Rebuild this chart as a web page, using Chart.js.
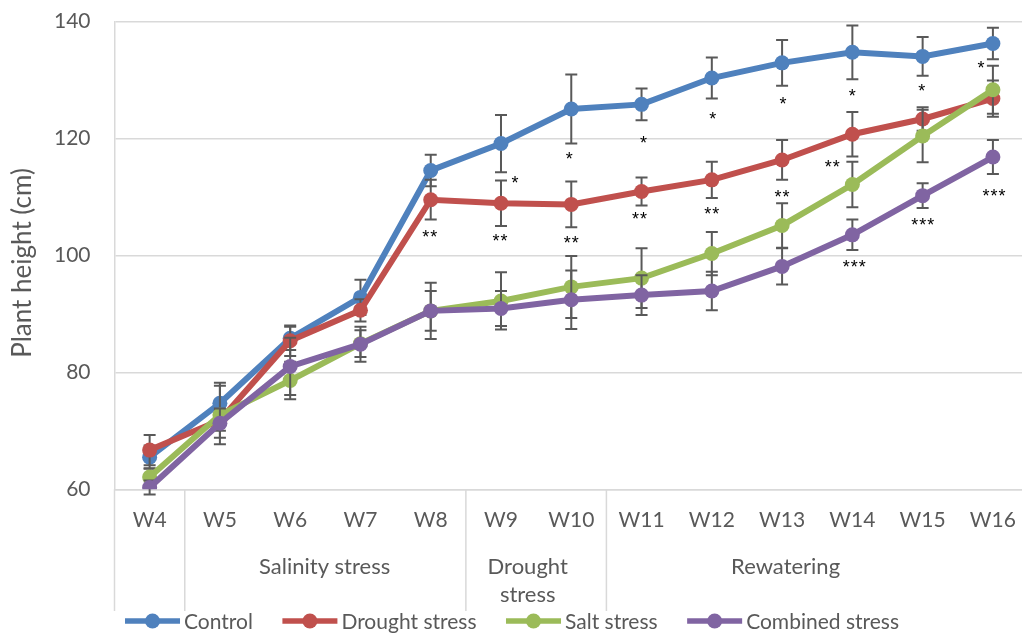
<!DOCTYPE html>
<html>
<head>
<meta charset="utf-8">
<script src="https://cdn.jsdelivr.net/npm/chart.js@4.4.1/dist/chart.umd.min.js"></script>
<style>
  html, body { margin: 0; padding: 0; background: #fff; overflow: hidden; }
  #wrap { width: 1034px; height: 634px; }
</style>
</head>
<body>
<div id="wrap"><canvas id="c" width="1034" height="634"></canvas></div>
<script>
// Weekly plant height (cm), mean ± error for each treatment
const weeks = ['W4', 'W5', 'W6', 'W7', 'W8', 'W9', 'W10', 'W11', 'W12', 'W13', 'W14', 'W15', 'W16'];
const seriesNames = ['Control', 'Drought stress', 'Salt stress', 'Combined stress'];

const controlMean  = [65.5, 74.7, 85.8, 92.8, 114.5, 119.1, 125.0, 125.8, 130.3, 132.9, 134.7, 134.0, 136.2];
const controlErr   = [2.0, 3.5, 2.0, 3.0, 2.7, 4.9, 5.9, 2.7, 3.5, 3.9, 4.6, 3.3, 2.7];
const droughtMean  = [66.7, 71.8, 85.4, 90.6, 109.5, 108.9, 108.7, 110.9, 112.9, 116.3, 120.7, 123.3, 126.8];
const droughtErr   = [2.6, 1.8, 2.6, 1.9, 3.4, 3.9, 3.9, 2.4, 3.1, 3.4, 3.8, 2.0, 3.1];
const saltMean     = [62.1, 72.7, 78.6, 84.9, 90.5, 92.2, 94.6, 96.1, 100.3, 105.1, 112.1, 120.4, 128.3];
const saltErr      = [1.5, 5.0, 3.2, 2.3, 4.8, 4.9, 5.3, 5.1, 3.7, 3.8, 3.9, 4.5, 4.1];
const combinedMean = [60.3, 71.3, 81.0, 84.8, 90.5, 90.9, 92.4, 93.2, 93.9, 98.1, 103.5, 110.2, 116.8];
const combinedErr  = [1.2, 2.5, 4.9, 3.0, 3.4, 3.0, 5.0, 3.4, 3.3, 3.1, 2.6, 2.1, 2.9];

const yTicks = [60, 80, 100, 120, 140];

// Treatment phases shown under the week labels
const phaseNames = [['Salinity stress'], ['Drought', 'stress'], ['Rewatering']];
const phaseFirstWeek = ['W5', 'W9', 'W11'];

// Significance marks: series index, week, text
const starSeries = [0, 0, 0, 0, 0, 0, 0, 0, 1, 1, 1, 1, 1, 1, 1, 3, 3, 3];
const starWeek   = ['W9', 'W10', 'W11', 'W12', 'W13', 'W14', 'W15', 'W16',
                    'W8', 'W9', 'W10', 'W11', 'W12', 'W13', 'W14',
                    'W14', 'W15', 'W16'];
const starText   = ['*', '*', '*', '*', '*', '*', '*', '*',
                    '**', '**', '**', '**', '**', '**', '**',
                    '***', '***', '***'];

const means = [controlMean, droughtMean, saltMean, combinedMean];
const errs = [controlErr, droughtErr, saltErr, combinedErr];

// ---- styling / layout ----
const colors = ['#4f81bd', '#c0504d', '#9bbb59', '#8064a2'];
const textColor = '#595959';
const gridColor = '#d9d9d9';
const FONT = 'Lato, "Open Sans", sans-serif';

// label offset (px) of each significance mark relative to its point
const starOffset = [[14, 35], [-2, 46], [2, 34], [1, 37], [1, 37], [0, 39], [-1, 30], [-12, 20],
                    [-1, 33], [-1, 33], [0, 34], [-2, 23], [0, 30], [0, 33], [-20, 28],
                    [2, 28], [0, 25], [1, 35]];
// horizontal centre of each phase label, in category units
const phaseCenter = [2.49, 5.38, 9.05];

const plotLeft = 114.5, plotTop = 21.3, plotBottom = 489.3;

const decorations = {
  id: 'decorations',
  beforeDatasetDraw(chart, args) {
    const i = args.index;
    const ctx = chart.ctx, y = chart.scales.y;
    const meta = chart.getDatasetMeta(i);
    ctx.save();
    ctx.strokeStyle = textColor;
    ctx.lineWidth = 2;
    meta.data.forEach((pt, k) => {
      const yt = y.getPixelForValue(means[i][k] + errs[i][k]);
      const yb = y.getPixelForValue(means[i][k] - errs[i][k]);
      ctx.beginPath();
      ctx.moveTo(pt.x, yt); ctx.lineTo(pt.x, yb);
      ctx.moveTo(pt.x - 6, yt); ctx.lineTo(pt.x + 6, yt);
      ctx.moveTo(pt.x - 6, yb); ctx.lineTo(pt.x + 6, yb);
      ctx.stroke();
    });
    ctx.restore();
  },
  afterDraw(chart) {
    const ctx = chart.ctx, x = chart.scales.x, area = chart.chartArea;
    const step = x.getPixelForValue(1) - x.getPixelForValue(0);
    ctx.save();

    // category group separators and extended left axis line
    ctx.strokeStyle = gridColor;
    ctx.lineWidth = 1.5;
    ctx.beginPath();
    ctx.moveTo(area.left, area.bottom); ctx.lineTo(area.left, 611);
    phaseFirstWeek.forEach(w => {
      const px = x.getPixelForValue(weeks.indexOf(w)) - step / 2;
      ctx.moveTo(px, area.bottom); ctx.lineTo(px, 611);
    });
    ctx.stroke();

    // phase labels
    ctx.fillStyle = textColor;
    ctx.font = '22px ' + FONT;
    ctx.textAlign = 'center';
    ctx.textBaseline = 'middle';
    phaseNames.forEach((lines, p) => {
      const cx = x.getPixelForValue(0) + phaseCenter[p] * step;
      lines.forEach((t, l) => ctx.fillText(t, cx, 567 + l * 28));
    });

    // significance marks
    ctx.fillStyle = '#000';
    ctx.font = '18px "Liberation Sans", Arial, sans-serif';
    ctx.letterSpacing = '1px';
    ctx.textBaseline = 'alphabetic';
    starSeries.forEach((s, k) => {
      const pt = chart.getDatasetMeta(s).data[weeks.indexOf(starWeek[k])];
      ctx.fillText(starText[k], pt.x + starOffset[k][0] + 0.5, pt.y + starOffset[k][1] + 10.4);
    });
    ctx.letterSpacing = '0px';

    // y axis title
    ctx.fillStyle = textColor;
    ctx.font = '26px ' + FONT;
    ctx.save();
    ctx.translate(22.5, 263);
    ctx.rotate(-Math.PI / 2);
    ctx.textAlign = 'center';
    ctx.textBaseline = 'middle';
    ctx.fillText('Plant height (cm)', 0, 0);
    ctx.restore();

    // legend
    ctx.font = '21px ' + FONT;
    ctx.textAlign = 'left';
    ctx.textBaseline = 'middle';
    const lineW = 55, gap = 4, spacing = 29.5, ly = 621;
    const widths = seriesNames.map(n => lineW + gap + ctx.measureText(n).width);
    const total = widths.reduce((a, b) => a + b, 0) + spacing * (widths.length - 1);
    let lx = 512 - total / 2;
    seriesNames.forEach((n, k) => {
      ctx.strokeStyle = colors[k];
      ctx.lineWidth = 5.5;
      ctx.beginPath(); ctx.moveTo(lx, ly); ctx.lineTo(lx + lineW, ly); ctx.stroke();
      ctx.fillStyle = colors[k];
      ctx.beginPath(); ctx.arc(lx + lineW / 2, ly, 7.5, 0, Math.PI * 2); ctx.fill();
      ctx.fillStyle = textColor;
      ctx.fillText(n, lx + lineW + gap, ly + 1);
      lx += widths[k] + spacing;
    });
    ctx.restore();
  }
};

new Chart(document.getElementById('c'), {
  type: 'line',
  data: {
    labels: weeks,
    datasets: seriesNames.map((name, k) => ({
      label: name,
      data: means[k],
      borderColor: colors[k],
      backgroundColor: colors[k],
      borderWidth: 6,
      pointRadius: 7.5,
      pointBorderWidth: 0,
      pointBackgroundColor: colors[k],
      tension: 0,
      fill: false,
      order: seriesNames.length - k
    }))
  },
  options: {
    responsive: false,
    animation: false,
    devicePixelRatio: 1,
    layout: { autoPadding: false, padding: { top: 0, right: 1, bottom: 0, left: 0 } },
    plugins: { legend: { display: false }, tooltip: { enabled: false } },
    scales: {
      x: {
        offset: true,
        grid: { display: false, drawTicks: false, offset: true },
        border: { display: true, color: gridColor, width: 1.5 },
        ticks: { color: textColor, font: { family: FONT, size: 21 }, padding: 18, maxRotation: 0, autoSkip: false },
        afterFit(scale) { scale.height = 634 - plotBottom; }
      },
      y: {
        min: yTicks[0],
        max: yTicks[yTicks.length - 1],
        afterBuildTicks(scale) { scale.ticks = yTicks.map(v => ({ value: v })); },
        grid: { color: gridColor, lineWidth: 1.5, drawTicks: false },
        border: { display: true, color: gridColor, width: 1.5 },
        ticks: { color: textColor, font: { family: FONT, size: 21 }, padding: 24 },
        afterFit(scale) { scale.width = plotLeft; }
      }
    }
  },
  plugins: [decorations, {
    id: 'plotTop',
    // pin the top edge of the plotting area
    afterLayout(chart) {
      const y = chart.scales.y;
      if (Math.abs(y.top - plotTop) > 0.01) {
        y.top = plotTop;
        y.height = y.bottom - y.top;
        chart.chartArea.top = plotTop;
        chart.chartArea.height = chart.chartArea.bottom - plotTop;
        y.configure();
      }
    }
  }]
});
</script>
</body>
</html>
